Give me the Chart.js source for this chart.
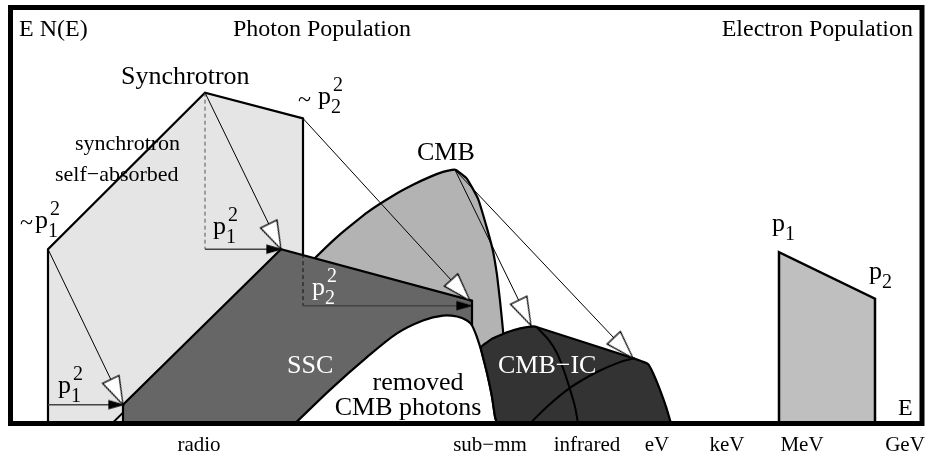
<!DOCTYPE html>
<html>
<head>
<meta charset="utf-8">
<script src="https://cdn.jsdelivr.net/npm/chart.js@4.4.1/dist/chart.umd.min.js"></script>
<style>
  html, body { margin: 0; padding: 0; background: #fff; }
  #wrap { width: 930px; height: 459px; }
</style>
</head>
<body>
<div id="wrap"><canvas id="sketch" width="930" height="459"></canvas></div>
<script>
// energy bands along the bottom axis
const bandLabels = ['radio', 'sub\u2212mm', 'infrared', 'eV', 'keV', 'MeV', 'GeV'];
const bandPositions = [199, 490, 587, 657, 727, 802, 905];

// outlines as [energy, E N(E)] pairs
const synchrotron = [[48,0],[48,176],[205,334],[303,308],[303,0]];
const cmb = [[280,0],[290,140],[315,167],[340,191],[367,213],[393,230],[413,241],[430,249],[443,254],[452,256],[456,256],
             [467,247],[478,227],[487,197],[493,174],[497,150],[500,124],[503,94],[504,70],[504,0]];
const ssc = [[123,0],[123,19],[281,176],[472,124],[472,0]];
const removedCmb = [[295,0],[330,34],[367,67],[397,91],[423,104],[443,109],[457,108],[467,104],[472,99],
                    [477,87],[482,71],[487,51],[492,27],[495,7],[497,0]];
const cmbIc = [[497,0],[495,7],[492,27],[487,51],[482,71],[481,77],[487,82],[493,86],[500,89],[507,92],[520,96],
               [533,98],[538,97],[633,66],[641,63],[648,60],[653,51],[660,34],[666,17],[671,0]];
const icLowHump = [[530,0],[547,17],[570,36],[597,52],[620,62],[635,66]];
const icHighHump = [[536,98],[549,84],[557,71],[563,56],[568,41],[575,17],[578,0]];
const electrons = [[779,0],[779,173],[875,126],[875,0]];
const cutEdge = [[112,0],[123,11]];

// scattering arrows (open heads) and E^2 shifts (filled heads)
const scatterArrows = [
  [[205,334],[281,176]],
  [[48,176],[123,19]],
  [[303,308],[470,124]],
  [[455,256],[531,99]],
  [[455,256],[633,66]]
];
const shiftArrows = [
  [[48,19],[123,19]],
  [[205,176],[281,176]],
  [[303,119],[471,119]]
];
const dropLines = [
  [[205,334],[205,176], '#555'],
  [[303,171],[303,119], '#111']
];

const serif = '"Liberation Serif", "Times New Roman", serif';

const textNotes = [
  {text: 'E N(E)', x: 19, y: 391, size: 24},
  {text: 'Photon Population', x: 233, y: 391, size: 24},
  {text: 'Electron Population', x: 913, y: 391, size: 24, align: 'right'},
  {text: 'Synchrotron', x: 121, y: 343, size: 26},
  {text: 'synchrotron', x: 75, y: 276, size: 22},
  {text: 'self\u2212absorbed', x: 55, y: 245, size: 22},
  {text: 'CMB', x: 417, y: 266, size: 26},
  {text: 'SSC', x: 287, y: 51, size: 26, color: '#fff'},
  {text: 'removed', x: 418, y: 34, size: 26, align: 'center'},
  {text: 'CMB photons', x: 408, y: 9, size: 26, align: 'center'},
  {text: 'CMB\u2212IC', x: 498, y: 51, size: 26, color: '#fff'},
  {text: 'E', x: 898, y: 9, size: 24},
  {text: '~', x: 20, y: 195, size: 24},
  {text: '~', x: 298, y: 320, size: 24}
];
const powerNotes = [
  {x: 35, y: 197, sub: '1', sup: '2'},
  {x: 318, y: 323, sub: '2', sup: '2'},
  {x: 213, y: 191, sub: '1', sup: '2'},
  {x: 312, y: 130, sub: '2', sup: '2', color: '#fff'},
  {x: 58, y: 31, sub: '1', sup: '2'},
  {x: 772, y: 194, sub: '1'},
  {x: 869, y: 146, sub: '2'}
];

const pts = a => a.map(([x, y]) => ({x, y}));

function headCanvas(len, half, color) {
  const size = Math.ceil(len * 2 + 6);
  const c = document.createElement('canvas');
  c.width = size; c.height = size;
  const g = c.getContext('2d');
  const m = size / 2;
  g.beginPath();
  g.moveTo(m, m);
  g.lineTo(m - len, m - half);
  g.lineTo(m - len, m + half);
  g.closePath();
  g.fillStyle = color;
  g.fill();
  g.lineWidth = 1.3;
  g.strokeStyle = '#000';
  g.stroke();
  return c;
}
const openHead = headCanvas(28, 9, '#fff');
const solidHead = headCanvas(14, 4, '#000');

function headAngle(c) {
  const d = c.dataset.data, s = c.chart.scales;
  const a = d[0], b = d[d.length - 1];
  const dx = s.x.getPixelForValue(b.x) - s.x.getPixelForValue(a.x);
  const dy = s.y.getPixelForValue(b.y) - s.y.getPixelForValue(a.y);
  return Math.atan2(dy, dx) * 180 / Math.PI;
}

function shape(data, color, order, tension, width) {
  return {
    data: pts(data), showLine: true, fill: 'shape', backgroundColor: color,
    borderColor: '#000', borderWidth: width || 2.2, pointRadius: 0, tension: tension || 0, order
  };
}
function curve(data, order, tension) {
  return {data: pts(data), showLine: true, fill: false, borderColor: '#000', borderWidth: 2,
          pointRadius: 0, tension: tension || 0, order};
}
function arrow(seg, head, color, width, order, dash) {
  return {
    data: pts(seg), showLine: true, fill: false, borderColor: color, borderWidth: width,
    borderDash: dash || [], order,
    pointRadius: c => (head && c.dataIndex === seg.length - 1) ? 6 : 0,
    pointStyle: head || 'circle',
    rotation: headAngle
  };
}

const datasets = [
  shape(synchrotron, '#e5e5e5', 90),
  shape(cmb, '#b3b3b3', 80, 0.12),
  shape(ssc, '#666666', 70),
  shape(removedCmb, '#ffffff', 60, 0.3),
  shape(cmbIc, '#333333', 50, 0.2),
  curve(icLowHump, 45, 0.3),
  curve(icHighHump, 45, 0.3),
  shape(electrons, '#bfbfbf', 40, 0, 2.5),
  curve(cutEdge, 40)
];
dropLines.forEach(d => datasets.push(arrow([d[0], d[1]], null, d[2], 1, 30, [4, 3])));
shiftArrows.forEach(s => datasets.push(arrow(s, solidHead, '#444', 1.5, 20)));
scatterArrows.forEach(s => datasets.push(arrow(s, openHead, '#000', 1, 10)));

const notesPlugin = {
  id: 'notes',
  afterDatasetsDraw(chart) {
    const {ctx, scales: {x, y}} = chart;
    ctx.save();
    ctx.textBaseline = 'alphabetic';
    textNotes.forEach(n => {
      ctx.font = n.size + 'px ' + serif;
      ctx.fillStyle = n.color || '#000';
      ctx.textAlign = n.align || 'left';
      ctx.fillText(n.text, x.getPixelForValue(n.x), y.getPixelForValue(n.y));
    });
    ctx.textAlign = 'left';
    powerNotes.forEach(n => {
      const px = x.getPixelForValue(n.x), py = y.getPixelForValue(n.y);
      ctx.fillStyle = n.color || '#000';
      ctx.font = '26px ' + serif;
      ctx.fillText('p', px, py);
      ctx.font = '20px ' + serif;
      if (n.sub) ctx.fillText(n.sub, px + 13, py + 9);
      if (n.sup) ctx.fillText(n.sup, px + 15, py - 13);
    });
    ctx.restore();
  }
};

const framePlugin = {
  id: 'frame',
  afterDraw(chart) {
    const {ctx, chartArea: a} = chart;
    ctx.save();
    ctx.lineWidth = 5;
    ctx.strokeStyle = '#000';
    ctx.strokeRect(a.left, a.top, a.right - a.left, a.bottom - a.top);
    ctx.restore();
  }
};

new Chart(document.getElementById('sketch').getContext('2d'), {
  type: 'scatter',
  data: {datasets},
  options: {
    responsive: false,
    animation: false,
    devicePixelRatio: 1,
    events: [],
    layout: {padding: {left: 10.5, right: 8, top: 3.5, bottom: 0}},
    plugins: {legend: {display: false}, tooltip: {enabled: false}},
    scales: {
      x: {
        type: 'linear', min: 10.5, max: 922,
        grid: {display: false, drawTicks: false},
        border: {display: false},
        ticks: {
          autoSkip: false, maxRotation: 0, padding: 9, color: '#000',
          font: {family: serif, size: 21},
          callback: (v, i) => bandLabels[i]
        },
        afterBuildTicks: s => { s.ticks = bandPositions.map(v => ({value: v})); },
        afterFit: s => { s.height = 35.5; s.paddingLeft = 0; s.paddingRight = 0; }
      },
      y: {type: 'linear', display: false, min: 0, max: 420}
    }
  },
  plugins: [notesPlugin, framePlugin]
});
</script>
</body>
</html>
